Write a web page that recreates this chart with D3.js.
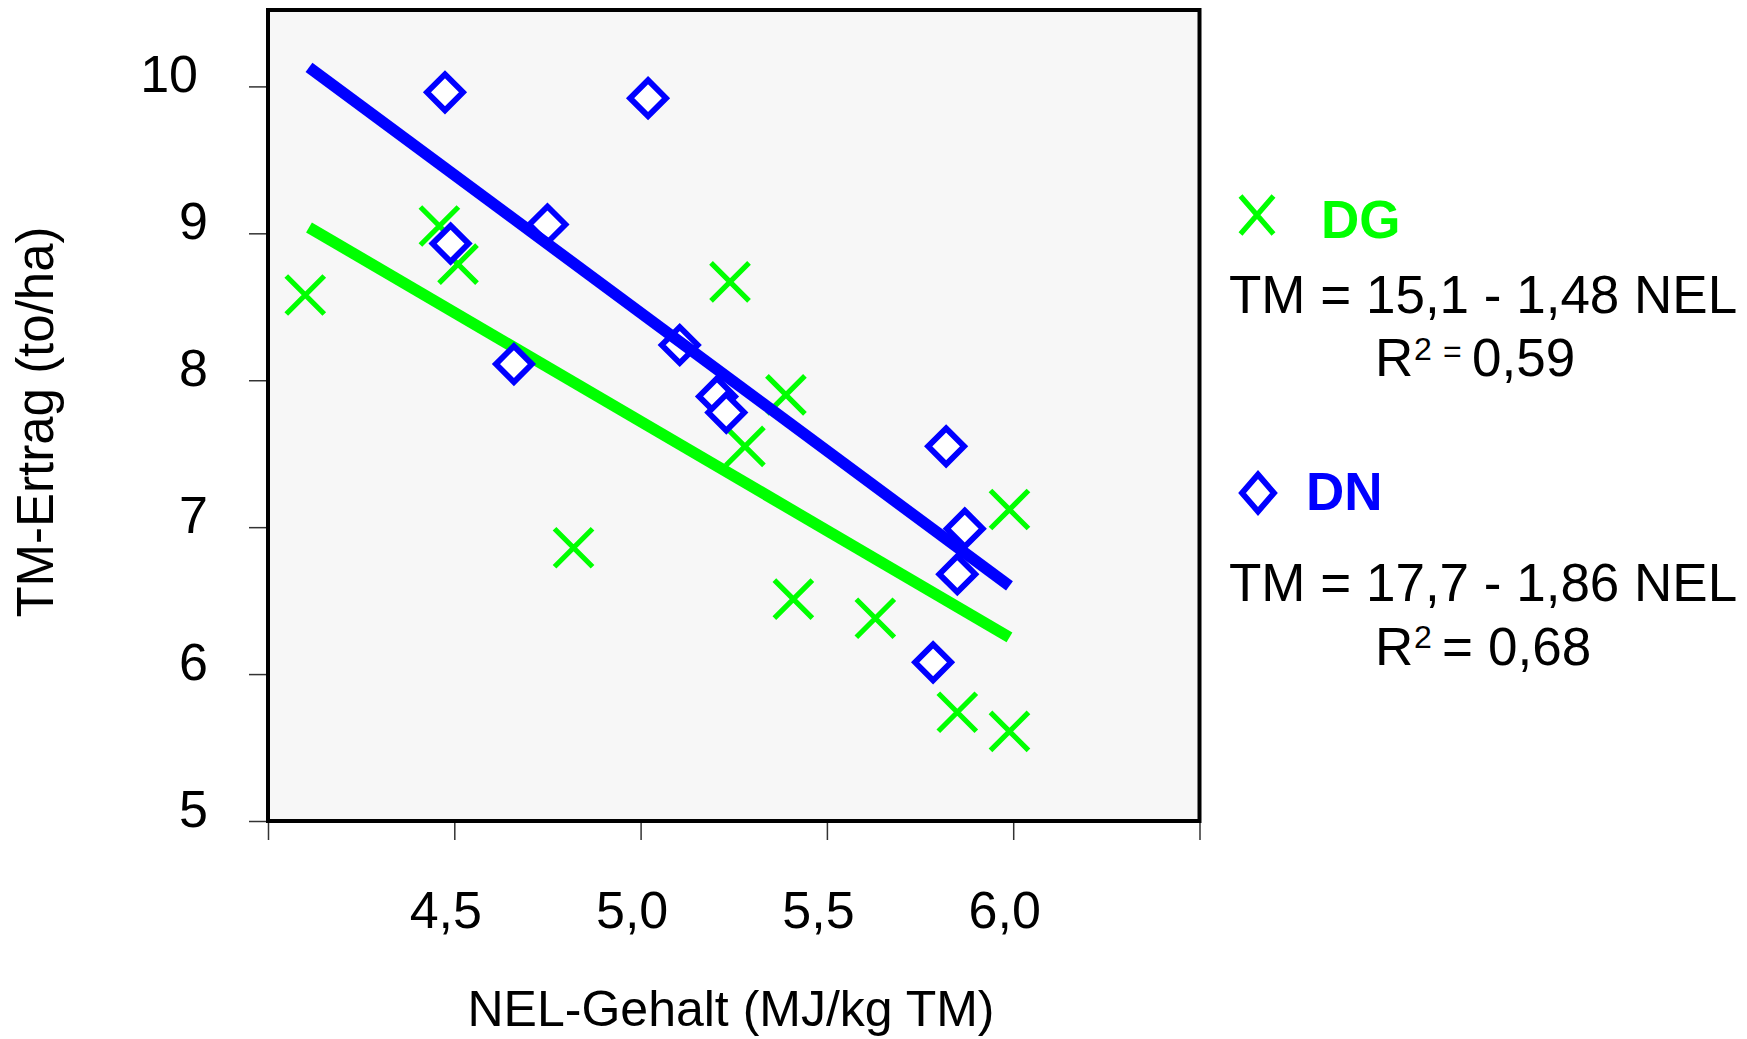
<!DOCTYPE html>
<html><head><meta charset="utf-8">
<script src="https://cdn.jsdelivr.net/npm/d3@7"></script>
<style>
body{margin:0;background:#fff;}
svg{display:block;font-family:"Liberation Sans",Arial,Helvetica,sans-serif;}
</style>
</head><body>
<svg id="c" width="1747" height="1039"></svg>
<script>
// ---- data ----
const dgNEL = [4.10, 4.46, 4.51, 4.82, 5.24, 5.28, 5.39, 5.41, 5.63, 5.85, 5.99, 5.99];
const dgTM  = [8.58, 9.05, 8.79, 6.86, 8.67, 7.55, 7.90, 6.51, 6.38, 5.74, 5.61, 7.12];
const dnNEL = [4.475, 5.02, 4.75, 4.49, 4.66, 5.105, 5.205, 5.23, 5.82, 5.87, 5.85, 5.785];
const dnTM  = [9.96, 9.92, 9.06, 8.93, 8.11, 8.24, 7.89, 7.78, 7.55, 6.99, 6.68, 6.08];
const fitNEL = [4.11, 5.99];
const dgFit  = [9.04, 6.25];
const dnFit  = [10.13, 6.60];
const xTicks = [4.0, 4.5, 5.0, 5.5, 6.0, 6.5];
const xTickLabels = ["", "4,5", "5,0", "5,5", "6,0", ""];
const yTicks = [5, 6, 7, 8, 9, 10];
const yTickLabels = ["5", "6", "7", "8", "9", "10"];
const seriesNames = ["DG", "DN"];
const equations = ["TM = 15,1 - 1,48 NEL", "TM = 17,7 - 1,86 NEL"];
const r2Values = ["0,59", "0,68"];
const xTitle = "NEL-Gehalt (MJ/kg TM)";
const yTitle = "TM-Ertrag (to/ha)";

// ---- layout ----
const GREEN = "#00ff00", BLUE = "#0000ff";
const L = 268, R = 1199.5, T = 10, B = 821;
const svg = d3.select("#c");
const x = d3.scaleLinear().domain([4, 6.5]).range([L, R]);
const y = d3.scaleLinear().domain([5, 10.52]).range([B, T]);

// plot background
svg.append("rect").attr("x", L).attr("y", T).attr("width", R - L).attr("height", B - T)
  .attr("fill", "#f7f7f7");

// axes
const yAxis = d3.axisLeft(y).tickValues(yTicks)
  .tickFormat((d, i) => yTickLabels[i]).tickSize(19).tickSizeOuter(0).tickPadding(41);
const gy = svg.append("g").attr("transform", `translate(${L},0)`).call(yAxis);
gy.select(".domain").remove();
gy.selectAll(".tick line").attr("stroke", "#333").attr("stroke-width", 1.5);
gy.selectAll(".tick text").attr("font-size", 52).attr("fill", "#000")
  .attr("font-family", "'Liberation Sans',Arial,sans-serif").attr("dy", "0.1em")
  .attr("dx", d => d >= 10 ? -10 : 0);

const xAxis = d3.axisBottom(x).tickValues(xTicks)
  .tickFormat((d, i) => xTickLabels[i]).tickSize(19).tickSizeOuter(0).tickPadding(51);
const gx = svg.append("g").attr("transform", `translate(0,${B})`).call(xAxis);
gx.select(".domain").remove();
gx.selectAll(".tick line").attr("stroke", "#333").attr("stroke-width", 1.5);
gx.selectAll(".tick text").attr("font-size", 52).attr("fill", "#000")
  .attr("font-family", "'Liberation Sans',Arial,sans-serif").attr("dx", -9);

// axis titles
svg.append("text").attr("x", 731).attr("y", 1026).attr("text-anchor", "middle")
  .attr("font-size", 50).text(xTitle);
svg.append("text").attr("transform", "translate(53,422) rotate(-90)")
  .attr("text-anchor", "middle").attr("font-size", 51).text(yTitle);

// data layers
const line = d3.line().x(d => x(d[0])).y(d => y(d[1]));
const dgFitPts = fitNEL.map((v, i) => [v, dgFit[i]]);
const dnFitPts = fitNEL.map((v, i) => [v, dnFit[i]]);
const dgPts = dgNEL.map((v, i) => [v, dgTM[i]]);
const dnPts = dnNEL.map((v, i) => [v, dnTM[i]]);

svg.append("path").datum(dgFitPts).attr("d", line).attr("fill", "none")
  .attr("stroke", GREEN).attr("stroke-width", 11.5).attr("stroke-linecap", "butt");

const xPath = "M-19,-19L19,19M-19,19L19,-19";
svg.append("g").selectAll("path").data(dgPts).join("path")
  .attr("transform", d => `translate(${x(d[0])},${y(d[1])})`)
  .attr("d", xPath).attr("fill", "none").attr("stroke", GREEN).attr("stroke-width", 5.2);

const dPath = "M0,-18L18,0L0,18L-18,0Z";
svg.append("g").selectAll("path").data(dnPts).join("path")
  .attr("transform", d => `translate(${x(d[0])},${y(d[1])})`)
  .attr("d", dPath).attr("fill", "#fff").attr("stroke", BLUE).attr("stroke-width", 5.8)
  .attr("stroke-linejoin", "miter");

svg.append("path").datum(dnFitPts).attr("d", line).attr("fill", "none")
  .attr("stroke", BLUE).attr("stroke-width", 11.5).attr("stroke-linecap", "butt");

// plot border
svg.append("rect").attr("x", L).attr("y", T).attr("width", R - L).attr("height", B - T)
  .attr("fill", "none").attr("stroke", "#000").attr("stroke-width", 4);

// legend
const lg = svg.append("g");
lg.append("path").attr("transform", "translate(1257,215)")
  .attr("d", "M-16.5,-19L16.5,19M-16.5,19L16.5,-19").attr("fill", "none")
  .attr("stroke", GREEN).attr("stroke-width", 5.2);
lg.append("text").attr("x", 1321).attr("y", 238).attr("font-size", 53).attr("font-weight", "bold")
  .attr("fill", GREEN).text(seriesNames[0]);
lg.append("text").attr("x", 1229).attr("y", 313).attr("font-size", 53).text(equations[0]);
const r1 = lg.append("text").attr("font-size", 53);
r1.append("tspan").attr("x", 1375).attr("y", 376).text("R");
r1.append("tspan").attr("x", 1414).attr("y", 360).attr("font-size", 32).text("2");
r1.append("tspan").attr("x", 1443).attr("y", 362).attr("font-size", 32).text("=");
r1.append("tspan").attr("x", 1472).attr("y", 376).text(r2Values[0]);

lg.append("path").attr("transform", "translate(1258,493)")
  .attr("d", "M0,-18.5L16,0L0,18.5L-16,0Z").attr("fill", "#fff")
  .attr("stroke", BLUE).attr("stroke-width", 5.8);
lg.append("text").attr("x", 1306).attr("y", 510).attr("font-size", 53).attr("font-weight", "bold")
  .attr("fill", BLUE).text(seriesNames[1]);
lg.append("text").attr("x", 1229).attr("y", 601).attr("font-size", 53).text(equations[1]);
const r2 = lg.append("text").attr("font-size", 53);
r2.append("tspan").attr("x", 1375).attr("y", 665).text("R");
r2.append("tspan").attr("x", 1414).attr("y", 648).attr("font-size", 32).text("2");
r2.append("tspan").attr("x", 1442).attr("y", 665).text("=");
r2.append("tspan").attr("x", 1488).attr("y", 665).text(r2Values[1]);
</script>
</body></html>
